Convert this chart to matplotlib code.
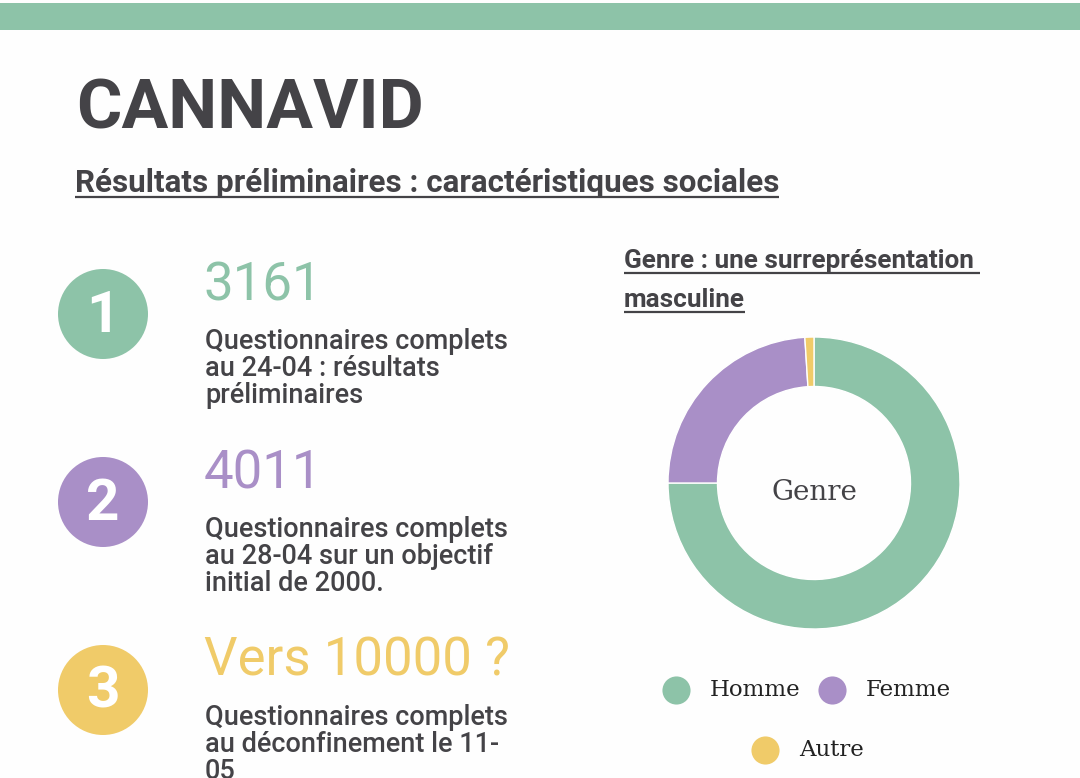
import matplotlib
matplotlib.use("Agg")
import matplotlib.pyplot as plt
from matplotlib.patches import Circle, Rectangle

# Data
step_numbers = ["1", "2", "3"]
step_headlines = ["3161", "4011", "Vers 10000 ?"]
step_texts = [
    "Questionnaires complets\nau 24-04 : résultats\npréliminaires",
    "Questionnaires complets\nau 28-04 sur un objectif\ninitial de 2000.",
    "Questionnaires complets\nau déconfinement le 11-\n05",
]
step_colors = ["#8DC3A8", "#A98FC7", "#F0CB69"]

genre_labels = ["Homme", "Femme", "Autre"]
genre_values = [75, 24, 1]
genre_colors = ["#8DC3A8", "#A98FC7", "#F0CB69"]

dark = "#444347"
W, H = 1080, 778

fig = plt.figure(figsize=(W / 100, H / 100), dpi=100)
fig.patch.set_facecolor("#FEFEFE")
ax = fig.add_axes([0, 0, 1, 1])
ax.set_xlim(0, W)
ax.set_ylim(H, 0)
ax.axis("off")

# top band
ax.add_patch(Rectangle((0, 3), W, 27, color="#8DC3A8", lw=0))

ax.text(76, 128, "CANNAVID", fontsize=50, fontweight="bold", family="Roboto",
        color=dark, va="baseline")

underlined = []
t = ax.text(75, 192, "Résultats préliminaires : caractéristiques sociales",
            fontsize=22.6, fontweight="bold", family="Roboto", color=dark, va="baseline")
underlined.append((t, 192 + 5))

# numbered steps
y0, dy = 314, 188
for i, (num, head, txt, col) in enumerate(zip(step_numbers, step_headlines, step_texts, step_colors)):
    cy = y0 + i * dy
    ax.add_patch(Circle((103, cy), 45, color=col, lw=0))
    ax.text(103, cy + 2, num, fontsize=42, fontweight="bold", family="Roboto",
            color="white", ha="center", va="center")
    ax.text(204, cy - 14, head, fontsize=38, family="Roboto", color=col, va="baseline")
    ax.text(205, cy + 14, txt, fontsize=19.5, fontweight="medium", family="Roboto",
            color=dark, va="top", linespacing=1.0)

# donut title
t1 = ax.text(624, 268, "Genre : une surreprésentation ", fontsize=18.8, fontweight="bold",
             family="Roboto", color=dark, va="baseline")
t2 = ax.text(624, 307, "masculine", fontsize=18.8, fontweight="bold",
             family="Roboto", color=dark, va="baseline")
underlined.append((t1, 268 + 5))
underlined.append((t2, 307 + 5))

# donut
cx, cy, R = 814, 483, 146
box = 160
axd = fig.add_axes([(cx - box) / W, 1 - (cy + box) / H, 2 * box / W, 2 * box / H])
axd.pie(genre_values, colors=genre_colors, startangle=90, counterclock=False, radius=R,
        wedgeprops=dict(width=R - 96.5, edgecolor="white", linewidth=1))
axd.set_xlim(-box, box)
axd.set_ylim(-box, box)
axd.axis("off")
ax.text(cx, cy + 9, "Genre", fontsize=20, family="DejaVu Serif", color=dark,
        ha="center", va="center")

# legend
leg_pos = [(676, 690), (832, 690), (765, 750)]
for (lx, ly), lab, col in zip(leg_pos, genre_labels, genre_colors):
    ax.scatter([lx], [ly], s=410, color=col, lw=0)
    ax.text(lx + 34, ly, lab, fontsize=16.5, family="DejaVu Serif", color="#222222",
            va="center")

# underlines
fig.canvas.draw()
inv = ax.transData.inverted()
for txt_obj, uy in underlined:
    bb = txt_obj.get_window_extent()
    (x0, _), (x1, _) = inv.transform([(bb.x0, bb.y0), (bb.x1, bb.y1)])
    ax.plot([x0, x1], [uy, uy], color=dark, lw=1.6, solid_capstyle="butt")

fig.savefig("out.png", dpi=100, facecolor=fig.get_facecolor())
